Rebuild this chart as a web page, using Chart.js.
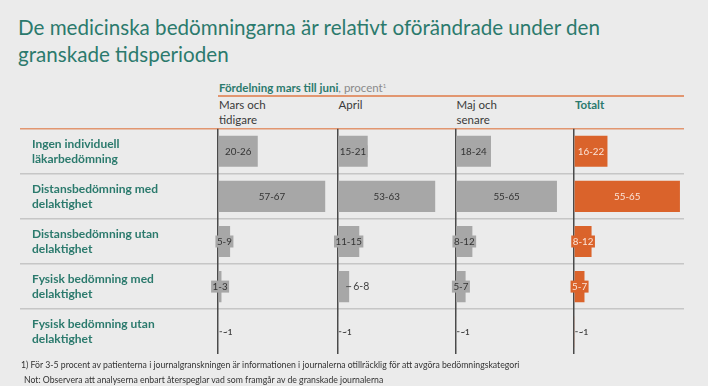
<!DOCTYPE html>
<html>
<head>
<meta charset="utf-8">
<script src="https://cdn.jsdelivr.net/npm/chart.js@4/dist/chart.umd.min.js"></script>
<style>
  html, body { margin: 0; padding: 0; }
  body { width: 708px; height: 386px; background: #ebebeb; position: relative; overflow: hidden; font-family: Lato, "Open Sans", sans-serif; }
  .abs { position: absolute; white-space: nowrap; }
  #title { left: 18px; top: 14px; font-size: 20.6px; line-height: 27px; color: #2b7a6d; }
  #sub { left: 219px; top: 79px; font-size: 11.5px; line-height: 14px; color: #2b7a6d; font-weight: bold; }
  #sub span { font-weight: normal; color: #8a8a8a; }
  #sub sup { font-size: 6px; vertical-align: 4px; }
  .hline { position: absolute; height: 1.5px; background: #e29670; }
  .colh { top: 97px; font-size: 11.5px; line-height: 15px; color: #3a3a3a; }
  .foot { font-size: 8.7px; color: #333; }
  #wrap { position: absolute; left: 20px; top: 114px; width: 668px; height: 255px; }
</style>
</head>
<body>
<div id="title" class="abs">De medicinska bedömningarna är relativt oförändrade under den<br>granskade tidsperioden</div>
<div id="sub" class="abs">Fördelning mars till juni<span>, procent<sup>1</sup></span></div>
<div class="hline" style="left:218px; top:95px; width:466px;"></div>
<div id="colheads"></div>
<div id="wrap"><canvas id="c"></canvas></div>
<div class="abs foot" style="left:21px; top:359px;">1) För 3-5 procent av patienterna i journalgranskningen är informationen i journalerna otillräcklig för att avgöra bedömningskategori</div>
<div class="abs foot" style="left:24px; top:374px;">Not: Observera att analyserna enbart återspeglar vad som framgår av de granskade journalerna</div>
<script>
// ---- data ----
const categories = [
  ["Ingen individuell", "läkarbedömning"],
  ["Distansbedömning med", "delaktighet"],
  ["Distansbedömning utan", "delaktighet"],
  ["Fysisk bedömning med", "delaktighet"],
  ["Fysisk bedömning utan", "delaktighet"]
];
const columnNames = [["Mars och", "tidigare"], ["April"], ["Maj och", "senare"], ["Totalt"]];

const marsLabels   = ["20-26", "57-67", "5-9", "1-3", "~1"];
const marsValues   = [23, 62, 7, 2, 0.6];
const aprilLabels  = ["15-21", "53-63", "11-15", "6-8", "~1"];
const aprilValues  = [18, 58, 13, 7, 0.6];
const majLabels    = ["18-24", "55-65", "8-12", "5-7", "~1"];
const majValues    = [21, 60, 10, 6, 0.6];
const totaltLabels = ["16-22", "55-65", "8-12", "5-7", "~1"];
const totaltValues = [19, 60, 10, 6, 0.5];

// ---- styles / layout ----
const GRAY = "#a7a7a7", ORANGE = "#da632b", TEAL = "#2b7a6d";
const colWidths = [119.2, 118, 118.3, 110];
const colMax = [69, 70, 70, 62.3];
const colLefts = [218, 337.5, 455.5, 574];
const outsideLabels = [[4], [3, 4], [4], [4]];

const series = [
  { labels: marsLabels, values: marsValues, color: GRAY, text: "#333" },
  { labels: aprilLabels, values: aprilValues, color: GRAY, text: "#333" },
  { labels: majLabels, values: majValues, color: GRAY, text: "#333" },
  { labels: totaltLabels, values: totaltValues, color: ORANGE, text: "#fbe4d8" }
];

// column headers
const ch = document.getElementById("colheads");
columnNames.forEach((n, i) => {
  const d = document.createElement("div");
  d.className = "abs colh";
  d.style.left = (colLefts[i] + 1) + "px";
  if (i === 3) { d.style.color = TEAL; d.style.fontWeight = "bold"; }
  d.innerHTML = n.join("<br>");
  ch.appendChild(d);
});

const rangeLabels = {
  id: "rangeLabels",
  afterDatasetsDraw(chart) {
    const ctx = chart.ctx;
    ctx.save();
    ctx.textBaseline = "middle";
    series.forEach((s, i) => {
      const meta = chart.getDatasetMeta(i);
      meta.data.forEach((bar, j) => {
        const txt = s.labels[j];
        const x0 = bar.base, x1 = bar.x, y = bar.y;
        const outside = outsideLabels[i].includes(j);
        if (outside) {
          const small = txt === "~1";
          ctx.font = (small ? "bold 8px " : "10.5px ") + "Lato, sans-serif";
          ctx.strokeStyle = "#555";
          ctx.lineWidth = 1;
          ctx.beginPath();
          if (small) { ctx.moveTo(x1 + 0.5, y); ctx.lineTo(x1 + 3, y); }
          else { ctx.moveTo(x1 - 3, y); ctx.lineTo(x1 + 2, y); }
          ctx.stroke();
          ctx.fillStyle = "#444";
          ctx.textAlign = "left";
          ctx.fillText(txt, x1 + 4, y + 0.5);
        } else {
          ctx.font = "9.8px Lato, sans-serif";
          const w = ctx.measureText(txt).width;
          const cx = (x0 + x1) / 2;
          if (w + 4 > x1 - x0) {
            ctx.fillStyle = s.color;
            ctx.fillRect(cx - w / 2 - 1.5, y - 6, w + 3, 12);
          }
          ctx.fillStyle = s.text;
          ctx.textAlign = "center";
          ctx.fillText(txt, cx, y + 0.5);
        }
      });
    });
    ctx.restore();
  }
};

const scales = {
  y: {
    type: "category",
    position: "left",
    offset: true,
    afterFit(scale) { scale.width = 186; },
    ticks: {
      autoSkip: false,
      crossAlign: "far",
      color: TEAL,
      font: { family: "Lato", weight: "bold", size: 12, lineHeight: 1.23 },
      padding: 0
    },
    grid: {
      offset: true,
      drawOnChartArea: true,
      drawTicks: true,
      tickLength: 198,
      color: (c) => c.index === 0 ? "#e29670" : (c.index >= 1 && c.index <= 4 ? "#c6c6c6" : "rgba(0,0,0,0)"),
      lineWidth: 1.5
    },
    border: { display: false }
  }
};
series.forEach((s, i) => {
  scales["x" + i] = {
    type: "linear",
    position: "bottom",
    stack: "cols",
    stackWeight: colWidths[i],
    min: 0,
    max: colMax[i],
    afterBuildTicks(scale) { scale.ticks = [{ value: 0 }]; },
    ticks: { display: false },
    grid: { color: "#4a4a4a", lineWidth: 1.5, drawTicks: false },
    border: { display: false }
  };
});

new Chart(document.getElementById("c"), {
  type: "bar",
  data: {
    labels: categories,
    datasets: series.map((s, i) => ({
      data: s.values,
      xAxisID: "x" + i,
      yAxisID: "y",
      grouped: false,
      backgroundColor: s.color,
      borderWidth: 0,
      barPercentage: 0.69,
      categoryPercentage: 1
    }))
  },
  options: {
    indexAxis: "y",
    responsive: true,
    maintainAspectRatio: false,
    animation: false,
    layout: { padding: { left: 12, right: 4, top: 0, bottom: 0 } },
    plugins: { legend: { display: false }, tooltip: { enabled: false } },
    scales
  },
  plugins: [rangeLabels]
});
</script>
</body>
</html>
